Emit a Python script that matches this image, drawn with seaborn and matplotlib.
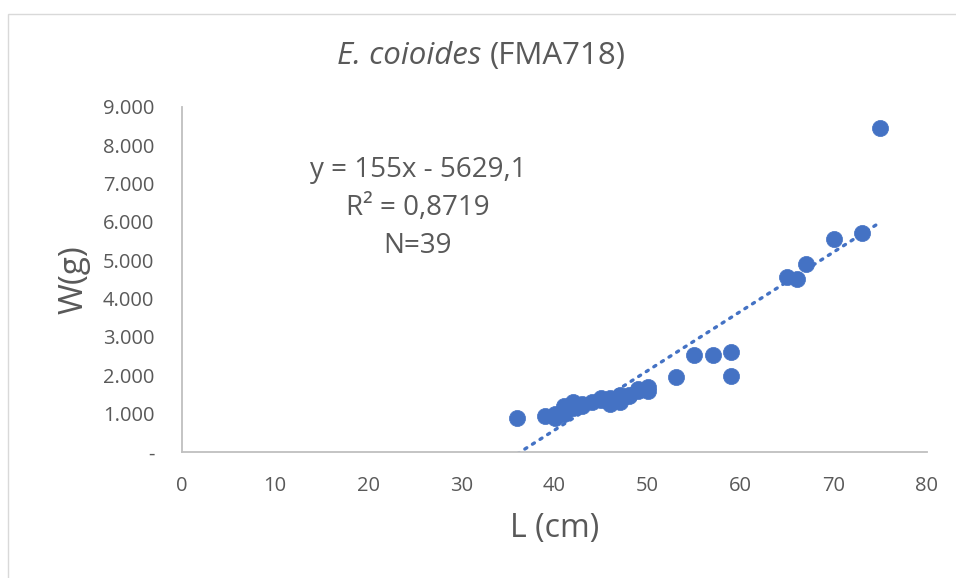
import matplotlib
matplotlib.use("Agg")
import matplotlib.pyplot as plt
import matplotlib.ticker as mticker
from matplotlib.patches import Rectangle
import numpy as np
import pandas as pd
import seaborn as sns

# ---- data ----
length_cm = [36, 39, 40, 40, 41, 41, 41, 42, 42, 42, 43, 43, 44, 45, 45,
             46, 46, 46, 47, 47, 47, 48, 48, 49, 49, 50, 50,
             53, 55, 57, 59, 59, 65, 66, 67, 70, 73, 75, 40]
weight_g = [880, 950, 900, 950, 1050, 1200, 1000, 1300, 1150, 1200, 1200, 1250, 1300, 1350, 1400,
            1250, 1400, 1350, 1300, 1400, 1500, 1450, 1500, 1600, 1650, 1700, 1600,
            1960, 2530, 2540, 2610, 1990, 4570, 4500, 4900, 5560, 5700, 8450, 1000]
slope = 155.0
intercept = -5629.1
trend_x = [36, 75]
x_ticks = [0, 10, 20, 30, 40, 50, 60, 70, 80]
y_ticks = [0, 1000, 2000, 3000, 4000, 5000, 6000, 7000, 8000, 9000]
title_italic = "E. coioides"
title_rest = "(FMA718)"
eq_lines = ["y = 155x - 5629,1", "R² = 0,8719", "N=39"]
xlabel = "L (cm)"
ylabel = "W(g)"

df = pd.DataFrame({"L": length_cm, "W": weight_g})
trend_df = pd.DataFrame({"L": trend_x, "W": [slope * v + intercept for v in trend_x]})

sns.set_theme(style="white")
plt.rcParams["font.family"] = ["Open Sans", "DejaVu Sans"]

blue = "#4472C4"
grey_txt = "#595959"
axis_col = "#BFBFBF"

fig = plt.figure(figsize=(9.56, 5.78), dpi=100)
fig.patch.set_facecolor("white")
fig.add_artist(Rectangle((8 / 956, -0.1), 1.2, 1 - 14 / 578 + 0.1, transform=fig.transFigure,
                         fill=False, edgecolor="#D9D9D9", linewidth=1))

ax = fig.add_axes([182 / 956, 1 - 452 / 578, (927 - 182) / 956, (452 - 107) / 578])

ax.plot(trend_df["L"], trend_df["W"], linestyle=(0, (0.7, 2.0)), color=blue,
        linewidth=2.4, dash_capstyle="round", zorder=2, clip_on=True)
sns.scatterplot(data=df, x="L", y="W", ax=ax, color=blue, s=135, edgecolor=blue,
                linewidth=0.5, zorder=3, clip_on=False)

ax.set_xlim(0, 80)
ax.set_ylim(0, 9000)
ax.set_xticks(x_ticks)
ax.set_yticks(y_ticks)
ax.yaxis.set_major_formatter(mticker.FuncFormatter(
    lambda v, p: "-" if v == 0 else f"{int(v):,}".replace(",", ".")))

for side in ["top", "right"]:
    ax.spines[side].set_visible(False)
for side in ["left", "bottom"]:
    ax.spines[side].set_color(axis_col)
    ax.spines[side].set_linewidth(1.3)
ax.tick_params(axis="both", which="major", direction="out", length=6, width=1.1,
               color=axis_col, labelcolor=grey_txt, labelsize=14.5)
ax.tick_params(axis="y", pad=14)
ax.tick_params(axis="x", pad=11)

ax.set_xlabel(xlabel, fontsize=23, color=grey_txt, labelpad=12)
ax.set_ylabel(ylabel, fontsize=24, color=grey_txt, labelpad=9)
ax.grid(False)

fig.text(0.512, 1 - 56 / 578, title_italic + " ", fontsize=22.5, style="italic", color=grey_txt,
         ha="right", va="center")
fig.text(0.512, 1 - 56 / 578, title_rest, fontsize=22.5, color=grey_txt,
         ha="left", va="center")

for i, line in enumerate(eq_lines):
    fig.text(418 / 956, 1 - (170 + 38 * i) / 578, line, fontsize=20, color=grey_txt,
             ha="center", va="center")

fig.savefig("out.png", dpi=100, facecolor="white")
